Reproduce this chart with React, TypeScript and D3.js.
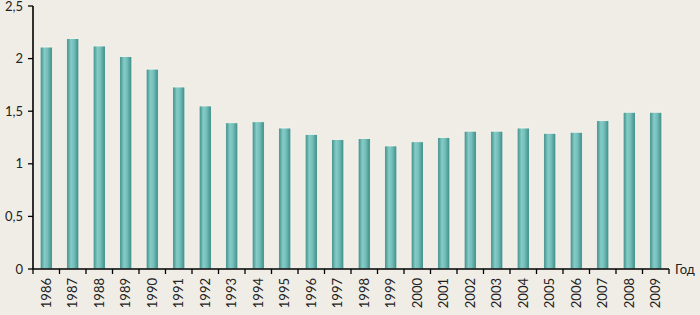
import { scaleBand, scaleLinear } from 'd3';

const WIDTH = 700;
const HEIGHT = 315;
const MARGIN = { top: 6, right: 31, bottom: 46, left: 33 };

const years = [
  '1986', '1987', '1988', '1989', '1990', '1991', '1992', '1993', '1994', '1995', '1996', '1997',
  '1998', '1999', '2000', '2001', '2002', '2003', '2004', '2005', '2006', '2007', '2008', '2009',
];
const values = [
  2.11, 2.19, 2.12, 2.02, 1.9, 1.73, 1.55, 1.39, 1.4, 1.34, 1.28, 1.23,
  1.24, 1.17, 1.21, 1.25, 1.31, 1.31, 1.34, 1.29, 1.3, 1.41, 1.49, 1.49,
];
const yTicks = [0, 0.5, 1, 1.5, 2, 2.5];
const yTickLabels = ['0', '0,5', '1', '1,5', '2', '2,5'];
const axisTitle = 'Год';

const FONT = 'Lato, "Open Sans", sans-serif';

export default function App() {
  const x = scaleBand<string>()
    .domain(years)
    .range([MARGIN.left, WIDTH - MARGIN.right])
    .paddingInner(0.54)
    .paddingOuter(0.27);
  const y = scaleLinear()
    .domain([0, 2.5])
    .range([HEIGHT - MARGIN.bottom, MARGIN.top]);

  const step = x.step();
  const x0 = MARGIN.left;
  const y0 = y(0);
  const boundaries = years.map((_, i) => x0 + i * step).concat([x0 + years.length * step]);

  return (
    <svg
      width={WIDTH}
      height={HEIGHT}
      style={{ position: 'absolute', left: 0, top: 0, background: '#f0ede6' }}
    >
      <defs>
        <linearGradient id="barGrad" x1="0" x2="1" y1="0" y2="0">
          <stop offset="0" stopColor="#3a8a85" />
          <stop offset="0.35" stopColor="#86cbc6" />
          <stop offset="0.6" stopColor="#74bfba" />
          <stop offset="1" stopColor="#3a8a85" />
        </linearGradient>
      </defs>
      <rect x={0} y={0} width={WIDTH} height={HEIGHT} fill="#f0ede6" />

      {years.map((yr, i) => (
        <rect
          key={yr}
          x={x(yr)}
          y={y(values[i])}
          width={x.bandwidth()}
          height={y0 - y(values[i])}
          fill="url(#barGrad)"
          stroke="#fbf7f0"
          strokeWidth={0.8}
        />
      ))}

      {/* y axis */}
      <line x1={x0} x2={x0} y1={y(2.5)} y2={y0} stroke="#000" strokeWidth={1.6} />
      {yTicks.map((t, i) => (
        <g key={t}>
          <line x1={x0 - 5} x2={x0} y1={y(t)} y2={y(t)} stroke="#000" strokeWidth={1.3} />
          <text
            x={x0 - 10}
            y={y(t)}
            dy="0.35em"
            textAnchor="end"
            fontFamily={FONT}
            fontSize={13}
            fill="#222"
          >
            {yTickLabels[i]}
          </text>
        </g>
      ))}

      {/* x axis */}
      <line
        x1={x0}
        x2={boundaries[boundaries.length - 1]}
        y1={y0}
        y2={y0}
        stroke="#000"
        strokeWidth={1.6}
      />
      {boundaries.map((b, i) => (
        <line key={i} x1={b} x2={b} y1={y0} y2={y0 + 5} stroke="#000" strokeWidth={1.3} />
      ))}
      {years.map(yr => {
        const cx = (x(yr) ?? 0) + x.bandwidth() / 2;
        return (
          <text
            key={yr}
            transform={`translate(${cx + 4.5}, ${y0 + 9}) rotate(-90)`}
            textAnchor="end"
            fontFamily={FONT}
            fontSize={13}
            fill="#222"
          >
            {yr}
          </text>
        );
      })}
      <text
        x={boundaries[boundaries.length - 1] + 6}
        y={y0}
        dy="0.35em"
        fontFamily={FONT}
        fontSize={13}
        fill="#222"
      >
        {axisTitle}
      </text>
    </svg>
  );
}
